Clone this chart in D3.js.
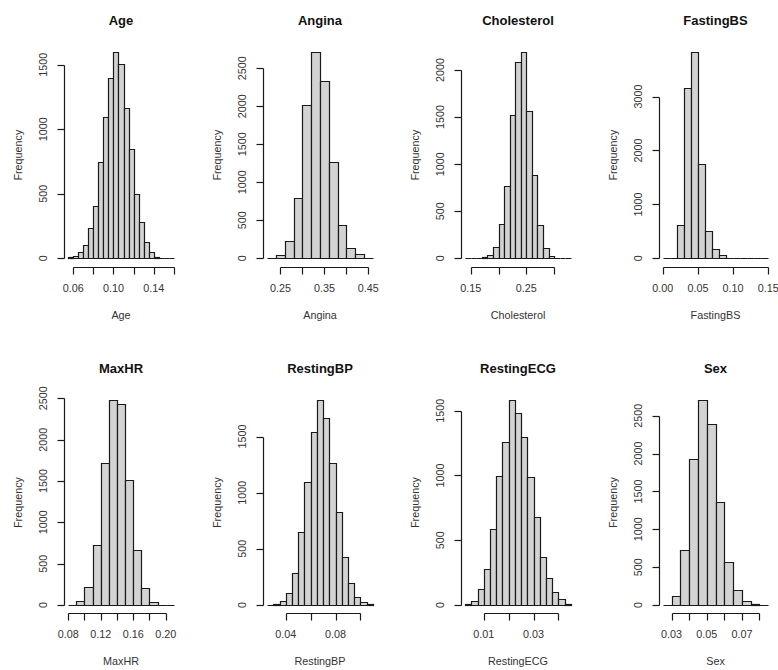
<!DOCTYPE html>
<html><head><meta charset="utf-8">
<script src="https://cdn.jsdelivr.net/npm/d3@7"></script>
<style>body{margin:0;background:#fff}svg{display:block}</style>
</head><body><svg id="c" width="778" height="670"></svg>
<script>
// ---- data ----
const variables = ["Age","Angina","Cholesterol","FastingBS","MaxHR","RestingBP","RestingECG","Sex"];
const binStart = [0.055, 0.22, 0.14, 0.00, 0.08, 0.025, 0.0025, 0.025];
const binWidth = [0.005, 0.02, 0.01, 0.01, 0.01, 0.005, 0.0025, 0.005];

const countsAge = [8,20,52,103,238,408,750,1093,1395,1600,1509,1163,850,496,279,124,52,10,3,1,0];
const countsAngina = [5,44,232,789,2018,2715,2333,1272,439,132,53,8];
const countsCholesterol = [1,2,5,10,35,124,366,771,1517,2085,2192,1563,881,355,107,28,5,1,0];
const countsFastingBS = [2,10,618,3154,3828,1744,507,173,56,15,4,1,1,0,1];
const countsMaxHR = [5,45,214,726,1720,2480,2427,1512,665,200,32,5,1];
const countsRestingBP = [1,5,39,110,282,653,1093,1544,1826,1663,1262,826,431,193,68,24,5];
const countsRestingECG = [5,30,121,278,584,996,1255,1582,1484,1294,985,682,368,206,103,44,10];
const countsSex = [5,119,726,1923,2707,2390,1364,563,198,57,10,2];
const allCounts = [countsAge,countsAngina,countsCholesterol,countsFastingBS,countsMaxHR,countsRestingBP,countsRestingECG,countsSex];

const xTicksAge = [0.06,0.08,0.10,0.12,0.14,0.16];
const xTicksAngina = [0.25,0.30,0.35,0.40,0.45];
const xTicksCholesterol = [0.15,0.20,0.25,0.30];
const xTicksFastingBS = [0.00,0.05,0.10,0.15];
const xTicksMaxHR = [0.08,0.10,0.12,0.14,0.16,0.18,0.20];
const xTicksRestingBP = [0.04,0.06,0.08,0.10];
const xTicksRestingECG = [0.01,0.02,0.03,0.04];
const xTicksSex = [0.03,0.04,0.05,0.06,0.07,0.08];
const allXTicks = [xTicksAge,xTicksAngina,xTicksCholesterol,xTicksFastingBS,xTicksMaxHR,xTicksRestingBP,xTicksRestingECG,xTicksSex];

const yTicksAge = [0,500,1000,1500];
const yTicksAngina = [0,500,1000,1500,2000,2500];
const yTicksCholesterol = [0,500,1000,1500,2000];
const yTicksFastingBS = [0,1000,2000,3000];
const yTicksMaxHR = [0,500,1000,1500,2000,2500];
const yTicksRestingBP = [0,500,1000,1500];
const yTicksRestingECG = [0,500,1000,1500];
const yTicksSex = [0,500,1000,1500,2000,2500];
const allYTicks = [yTicksAge,yTicksAngina,yTicksCholesterol,yTicksFastingBS,yTicksMaxHR,yTicksRestingBP,yTicksRestingECG,yTicksSex];

// ---- layout ----
const colLeft = [64, 263, 461, 658.5];
const plotW = 114;
const rowTop = [43.6, 391.8];
const rowBottom = [266.6, 613.2];
const FONT = "'Liberation Sans', Arial, Helvetica, sans-serif";
const fs = 10.8;
const tickLen = 7;
const ink = "#1a1a1a";
const txt = "#333";
const sw = 1.2;

const svg = d3.select("#c");

variables.forEach((name, i) => {
  const col = i % 4, row = Math.floor(i / 4);
  const counts = allCounts[i];
  const b0 = binStart[i], w = binWidth[i];
  const bN = b0 + w * counts.length;
  const pad = (bN - b0) * 0.04;
  const left = colLeft[col], right = left + plotW;
  const top = rowTop[row], bottom = rowBottom[row];
  const maxC = d3.max(counts);
  const x = d3.scaleLinear().domain([b0 - pad, bN + pad]).range([left, right]);
  const y = d3.scaleLinear().domain([-0.04 * maxC, 1.04 * maxC]).range([bottom, top]);
  const px = v => Math.round(x(v)) + 0.5;
  const py = v => Math.round(y(v)) + 0.5;

  const g = svg.append("g");

  // bars
  g.selectAll("path.bar").data(counts).join("path")
    .attr("class", "bar")
    .attr("d", (c, k) => {
      const x0 = px(b0 + k * w), x1 = px(b0 + (k + 1) * w);
      const y0 = py(0), y1 = py(c);
      return `M${x0},${y0}H${x1}V${y1}H${x0}Z`;
    })
    .attr("fill", "#d3d3d3")
    .attr("stroke", ink)
    .attr("stroke-width", sw);

  // x axis
  const xt = allXTicks[i];
  const axY = Math.round(bottom) + 0.5;
  g.append("path")
    .attr("d", `M${px(xt[0])},${axY}H${px(xt[xt.length - 1])}`)
    .attr("stroke", ink).attr("stroke-width", sw).attr("fill", "none");
  g.selectAll("line.xt").data(xt).join("line")
    .attr("x1", d => px(d)).attr("x2", d => px(d))
    .attr("y1", axY).attr("y2", axY + tickLen)
    .attr("stroke", ink).attr("stroke-width", sw);
  let lastRight = -Infinity;
  xt.forEach(t => {
    const lab = g.append("text")
      .attr("x", x(t)).attr("y", bottom + 25)
      .attr("text-anchor", "middle")
      .attr("font-family", FONT).attr("font-size", fs).attr("fill", txt)
      .text(t.toFixed(2));
    const wdt = lab.node().getComputedTextLength();
    const l = x(t) - wdt / 2, r = x(t) + wdt / 2;
    if (l < lastRight + fs) lab.remove(); else lastRight = r;
  });

  // y axis
  const yt = allYTicks[i];
  const axX = Math.round(left) + 0.5;
  g.append("path")
    .attr("d", `M${axX},${py(yt[0])}V${py(yt[yt.length - 1])}`)
    .attr("stroke", ink).attr("stroke-width", sw).attr("fill", "none");
  g.selectAll("line.yt").data(yt).join("line")
    .attr("x1", axX - tickLen).attr("x2", axX)
    .attr("y1", d => py(d)).attr("y2", d => py(d))
    .attr("stroke", ink).attr("stroke-width", sw);
  g.selectAll("text.yl").data(yt).join("text")
    .attr("transform", d => `translate(${left - 17},${y(d)}) rotate(-90)`)
    .attr("text-anchor", "middle")
    .attr("font-family", FONT).attr("font-size", fs).attr("fill", txt)
    .text(d => d);

  // axis titles
  g.append("text")
    .attr("transform", `translate(${left - 42},${(top + bottom) / 2}) rotate(-90)`)
    .attr("text-anchor", "middle")
    .attr("font-family", FONT).attr("font-size", fs).attr("fill", txt)
    .text("Frequency");
  g.append("text")
    .attr("x", (left + right) / 2).attr("y", bottom + 52)
    .attr("text-anchor", "middle")
    .attr("font-family", FONT).attr("font-size", fs).attr("fill", txt)
    .text(name);
  g.append("text")
    .attr("x", (left + right) / 2).attr("y", top - 19)
    .attr("text-anchor", "middle")
    .attr("font-family", FONT).attr("font-size", 13).attr("font-weight", "bold").attr("fill", "#111")
    .text(name);
});
</script></body></html>
